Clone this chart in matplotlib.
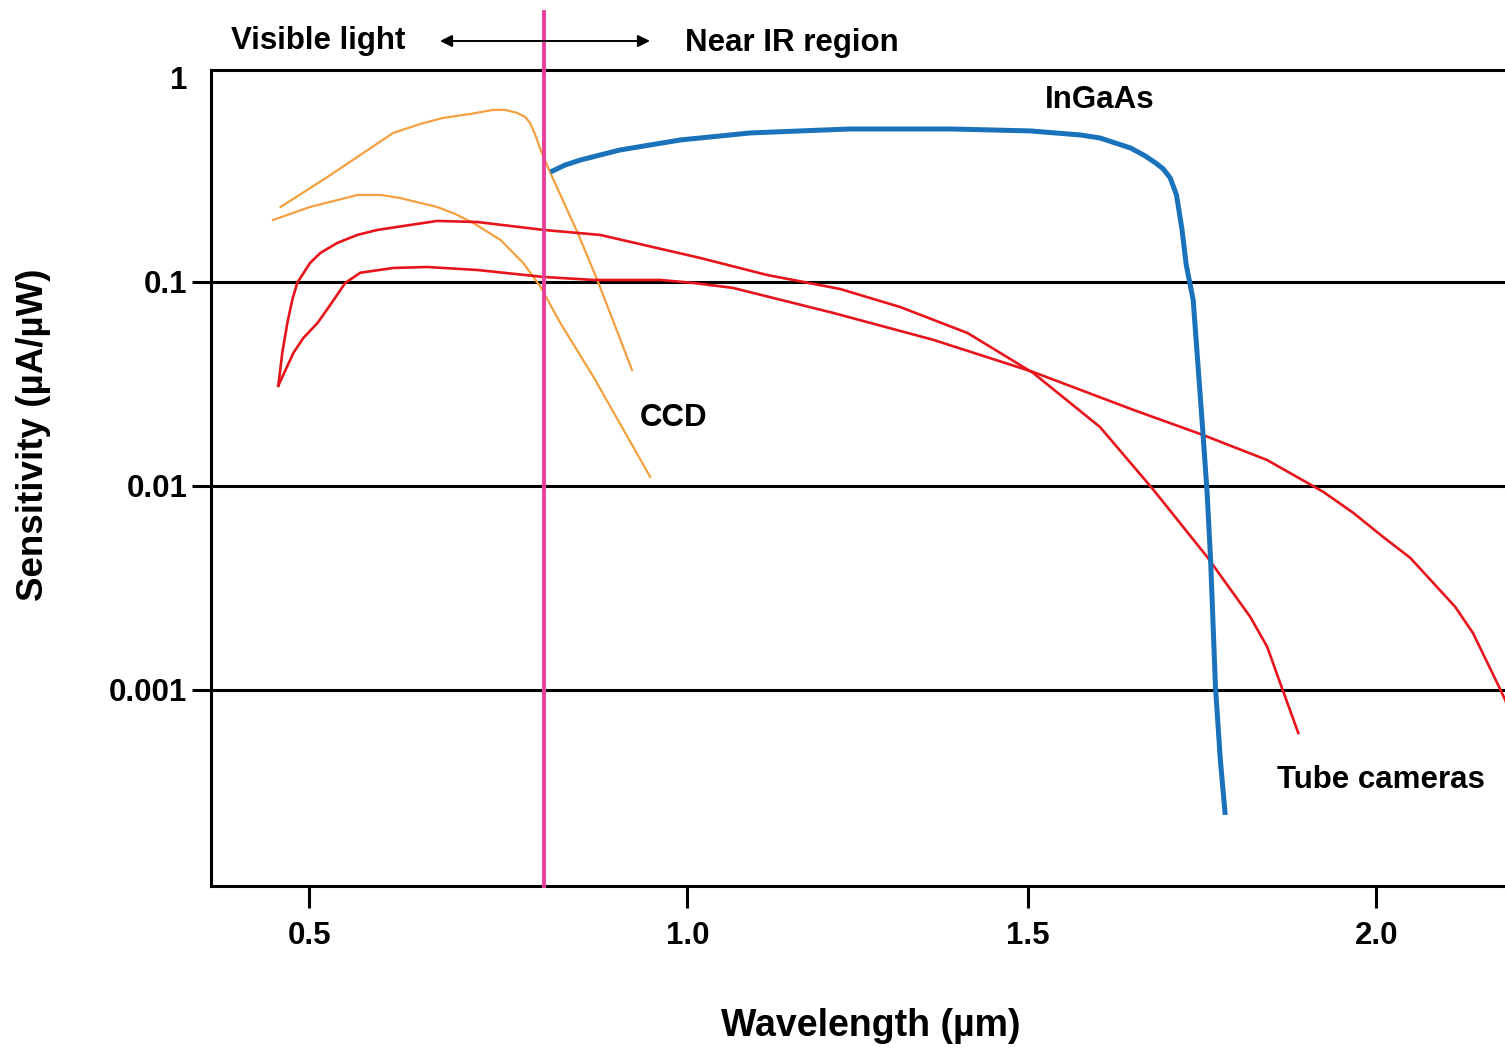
import matplotlib
matplotlib.use("Agg")
import matplotlib.pyplot as plt
import numpy as np

plt.rcParams['font.family'] = ['Liberation Sans', 'DejaVu Sans']
plt.rcParams['font.weight'] = 'bold'

# Sensitivity curves (wavelength in um, sensitivity in uA/uW)
ccd1_wl = [0.462, 0.524, 0.5675, 0.611, 0.6468, 0.677, 0.713, 0.743, 0.7593, 0.775, 0.7857, 0.792,
           0.799, 0.806, 0.819, 0.855, 0.881, 0.927]
ccd1_s = [0.233, 0.327, 0.4193, 0.5375, 0.595, 0.637, 0.6661, 0.697, 0.697, 0.674, 0.6439, 0.602,
          0.5254, 0.4436, 0.342, 0.174, 0.1023, 0.037]

ccd2_wl = [0.452, 0.501, 0.564, 0.594, 0.620, 0.669, 0.693, 0.717, 0.753, 0.783, 0.806, 0.832,
           0.876, 0.951]
ccd2_s = [0.2013, 0.2332, 0.267, 0.267, 0.258, 0.2332, 0.2154, 0.1946, 0.1606, 0.1239, 0.0945, 0.063,
          0.0342, 0.01107]

tube1_wl = [0.459, 0.4643, 0.471, 0.4775, 0.484, 0.501, 0.5146, 0.537, 0.5635, 0.590, 0.669, 0.722,
            0.810, 0.885, 1.019, 1.117, 1.224, 1.312, 1.411, 1.507, 1.603, 1.680, 1.757, 1.819,
            1.8434, 1.862, 1.888]
tube1_s = [0.031, 0.0449, 0.063, 0.0816, 0.0989, 0.1239, 0.1387, 0.1553, 0.170, 0.1799, 0.1991, 0.1968,
           0.1799, 0.170, 0.1311, 0.1082, 0.0924, 0.0754, 0.0562, 0.0358, 0.01946, 0.00956, 0.00449,
           0.00228, 0.001625, 0.00108, 0.000615]

tube2_wl = [0.459, 0.479, 0.4921, 0.511, 0.5278, 0.5476, 0.5675, 0.611, 0.656, 0.722, 0.810, 0.876,
            0.964, 1.009, 1.067, 1.214, 1.361, 1.507, 1.651, 1.751, 1.843, 1.924, 1.967, 2.010,
            2.0489, 2.082, 2.1135, 2.139, 2.1739, 2.1853, 2.1997]
tube2_s = [0.031, 0.0449, 0.0531, 0.063, 0.0772, 0.0989, 0.111, 0.1171, 0.1184, 0.1145, 0.1058, 0.1023,
           0.1023, 0.0989, 0.0935, 0.0705, 0.052, 0.0362, 0.0236, 0.01778, 0.01341, 0.00935, 0.00738,
           0.00562, 0.00444, 0.003345, 0.002553, 0.0019, 0.00108, 0.000893, 0.000637]

ingaas_wl = [0.819, 0.8386, 0.859, 0.8849, 0.911, 0.951, 0.991, 1.019, 1.092, 1.1657, 1.239, 1.386,
             1.503, 1.575, 1.603, 1.647, 1.6681, 1.683, 1.694, 1.704, 1.713, 1.721, 1.727, 1.737,
             1.751, 1.757, 1.762, 1.769, 1.776, 1.783]
ingaas_s = [0.346, 0.3746, 0.3963, 0.4193, 0.4436, 0.4694, 0.4967, 0.508, 0.5375, 0.55, 0.5623, 0.5623,
            0.55, 0.5254, 0.508, 0.4537, 0.4146, 0.3832, 0.358, 0.3235, 0.267, 0.1799, 0.1212, 0.0816,
            0.0182, 0.00924, 0.00434, 0.001034, 0.000454, 0.000244]

visible_nir_boundary = 0.81

x_ticks = [0.5, 1.0, 1.5, 2.0]
x_ticklabels = ['0.5', '1.0', '1.5', '2.0']
y_ticks = [0.001, 0.01, 0.1, 1]
y_ticklabels = ['0.001', '0.01', '0.1', '1']

# the original axis is hand-drawn: tick spacing isn't uniform, so map through anchors
SCALE_WL = [0.0, 0.5, 1.0, 1.5, 2.0, 3.0]
SCALE_POS = [-69, 309, 687, 1028, 1376, 2072]


def fwd(w):
    return np.interp(w, SCALE_WL, SCALE_POS)


def inv(p):
    return np.interp(p, SCALE_POS, SCALE_WL)


fig = plt.figure(figsize=(15.05, 10.48), dpi=100)
ax = fig.add_axes([0.1402, 0.1546, 0.8598, 0.7786])
ax.set_xscale('function', functions=(fwd, inv))
ax.set_yscale('log')
ax.set_xlim(0.370, 2.185)
ax.set_ylim(1.094e-4, 1.094)

# horizontal decade lines
for yv in [0.001, 0.01, 0.1]:
    ax.axhline(yv, color='black', lw=2.2, zorder=1)

orange = '#F4A040'
red = '#E8141C'
blue = '#1A72BB'
ax.plot(ccd1_wl, ccd1_s, color=orange, lw=1.6, zorder=2)
ax.plot(ccd2_wl, ccd2_s, color=orange, lw=1.6, zorder=2)
ax.plot(tube1_wl, tube1_s, color=red, lw=1.9, zorder=2)
ax.plot(tube2_wl, tube2_s, color=red, lw=1.9, zorder=2)
ax.plot(ingaas_wl, ingaas_s, color=blue, lw=3.6, zorder=2, solid_capstyle='butt')

# visible / near IR boundary, runs up past the frame
ax.axvline(visible_nir_boundary, ymin=0, ymax=1.071, color='#E8409A', lw=2.8,
           zorder=3, clip_on=False)

ax.set_xticks(x_ticks)
ax.set_xticklabels(x_ticklabels)
ax.set_yticks(y_ticks)
ax.set_yticklabels(y_ticklabels)
ax.yaxis.set_minor_locator(plt.NullLocator())
ax.xaxis.set_minor_locator(plt.NullLocator())
ax.tick_params(axis='y', length=14, width=2.2, direction='out', pad=3, labelsize=22.5)
ax.tick_params(axis='x', length=16, width=2.2, direction='out', pad=9, labelsize=22.5)
ax.yaxis.get_major_ticks()[-1].tick1line.set_visible(False)

for side in ['top', 'left', 'bottom']:
    ax.spines[side].set_linewidth(2.2)
ax.spines['right'].set_visible(False)

ax.set_xlabel('Wavelength (µm)', fontsize=27, fontweight='bold')
ax.xaxis.set_label_coords(0.51, -0.149)
ax.set_ylabel('Sensitivity (µA/µW)', fontsize=26.5, fontweight='bold')
ax.yaxis.set_label_coords(-0.124, 0.553)

# curve labels
ax.text(1.603, 0.78, 'InGaAs', fontsize=22.5, ha='center', va='center')
ax.text(0.9815, 0.0215, 'CCD', fontsize=22.5, ha='center', va='center')
ax.text(2.007, 0.000362, 'Tube cameras', fontsize=22.5, ha='center', va='center')

# region labels above the frame
fig.text(318 / 1505, 1 - 41 / 1048, 'Visible light', fontsize=22.5, ha='center', va='center')
fig.text(792 / 1505, 1 - 43 / 1048, 'Near IR region', fontsize=22.5, ha='center', va='center')
ax.annotate('', xy=(650 / 1505, 1 - 41 / 1048), xytext=(440 / 1505, 1 - 41 / 1048),
            xycoords='figure fraction', textcoords='figure fraction',
            arrowprops=dict(arrowstyle='<|-|>', color='black', lw=1.4, mutation_scale=18,
                            shrinkA=0, shrinkB=0))

fig.savefig('out.png', dpi=100)
